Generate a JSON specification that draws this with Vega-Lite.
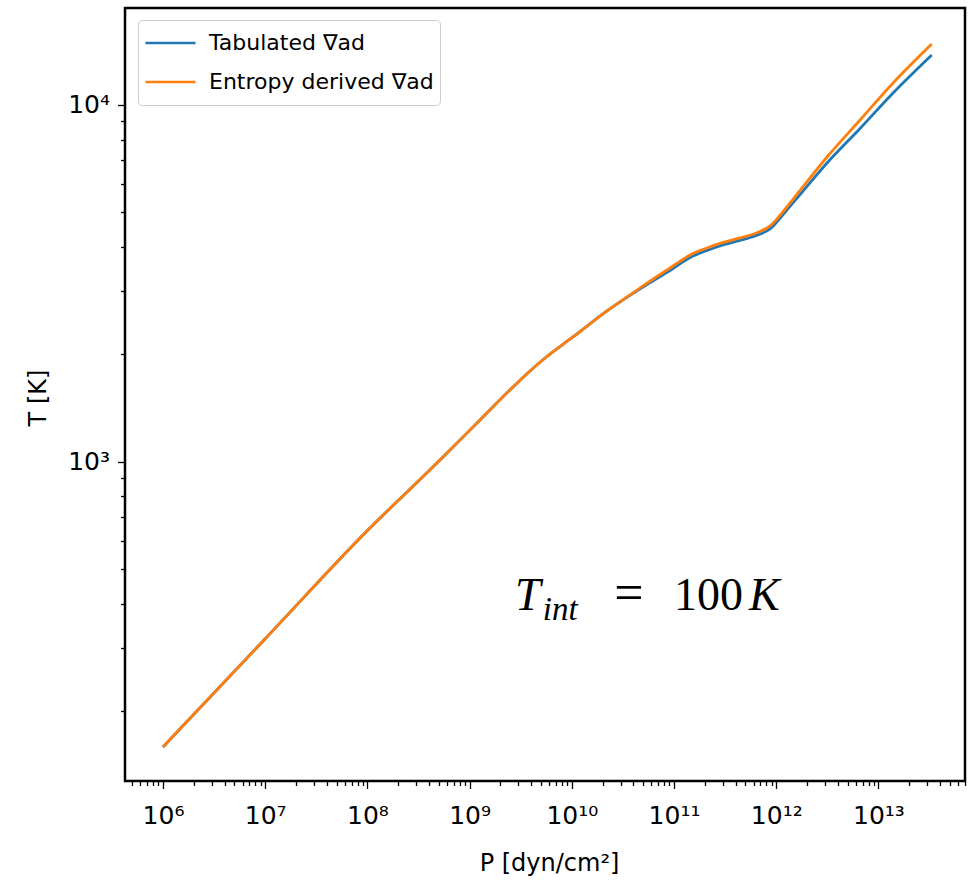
{
  "$schema": "https://vega.github.io/schema/vega-lite/v6.json",
  "width": 840,
  "height": 773,
  "autosize": {"type": "none"},
  "padding": {"left": 125, "top": 8, "right": 3, "bottom": 102},
  "background": "white",
  "config": {
    "font": "DejaVu Sans",
    "view": {"stroke": "black", "strokeWidth": 2.5},
    "axis": {"grid": false, "domain": false, "tickColor": "black", "tickWidth": 1.3, "labelColor": "black", "titleColor": "black", "labelFont": "DejaVu Sans", "titleFont": "DejaVu Sans", "titleFontWeight": "normal"}
  },
  "data": {
    "values": [
      {"P": 1e6, "T": 158.6, "series": "Tabulated ∇ad"},
      {"P": 1e7, "T": 318.8, "series": "Tabulated ∇ad"},
      {"P": 1e8, "T": 641, "series": "Tabulated ∇ad"},
      {"P": 5.13e8, "T": 1011, "series": "Tabulated ∇ad"},
      {"P": 1.264e9, "T": 1309, "series": "Tabulated ∇ad"},
      {"P": 2.659e9, "T": 1620, "series": "Tabulated ∇ad"},
      {"P": 3.899e9, "T": 1796, "series": "Tabulated ∇ad"},
      {"P": 5.47e9, "T": 1953, "series": "Tabulated ∇ad"},
      {"P": 1.027e10, "T": 2237, "series": "Tabulated ∇ad"},
      {"P": 2.21e10, "T": 2646, "series": "Tabulated ∇ad"},
      {"P": 4.648e10, "T": 3050, "series": "Tabulated ∇ad"},
      {"P": 9.78e10, "T": 3480, "series": "Tabulated ∇ad"},
      {"P": 1.434e11, "T": 3736, "series": "Tabulated ∇ad"},
      {"P": 2.103e11, "T": 3909, "series": "Tabulated ∇ad"},
      {"P": 3.017e11, "T": 4052, "series": "Tabulated ∇ad"},
      {"P": 4.424e11, "T": 4171, "series": "Tabulated ∇ad"},
      {"P": 6.2e11, "T": 4294, "series": "Tabulated ∇ad"},
      {"P": 8.7e11, "T": 4492, "series": "Tabulated ∇ad"},
      {"P": 1.247e12, "T": 5044, "series": "Tabulated ∇ad"},
      {"P": 1.634e12, "T": 5522, "series": "Tabulated ∇ad"},
      {"P": 3.142e12, "T": 6878, "series": "Tabulated ∇ad"},
      {"P": 6.607e12, "T": 8594, "series": "Tabulated ∇ad"},
      {"P": 1.39e13, "T": 10804, "series": "Tabulated ∇ad"},
      {"P": 3.323e13, "T": 13810, "series": "Tabulated ∇ad"},
      {"P": 1e6, "T": 158.6, "series": "Entropy derived ∇ad"},
      {"P": 1e7, "T": 318.8, "series": "Entropy derived ∇ad"},
      {"P": 1e8, "T": 641, "series": "Entropy derived ∇ad"},
      {"P": 5.13e8, "T": 1011, "series": "Entropy derived ∇ad"},
      {"P": 1.264e9, "T": 1309, "series": "Entropy derived ∇ad"},
      {"P": 2.659e9, "T": 1620, "series": "Entropy derived ∇ad"},
      {"P": 3.899e9, "T": 1796, "series": "Entropy derived ∇ad"},
      {"P": 5.47e9, "T": 1953, "series": "Entropy derived ∇ad"},
      {"P": 1.027e10, "T": 2237, "series": "Entropy derived ∇ad"},
      {"P": 2.21e10, "T": 2646, "series": "Entropy derived ∇ad"},
      {"P": 4.648e10, "T": 3069, "series": "Entropy derived ∇ad"},
      {"P": 9.78e10, "T": 3537, "series": "Entropy derived ∇ad"},
      {"P": 1.434e11, "T": 3797, "series": "Entropy derived ∇ad"},
      {"P": 2.103e11, "T": 3972, "series": "Entropy derived ∇ad"},
      {"P": 3.017e11, "T": 4117, "series": "Entropy derived ∇ad"},
      {"P": 4.424e11, "T": 4240, "series": "Entropy derived ∇ad"},
      {"P": 6.2e11, "T": 4364, "series": "Entropy derived ∇ad"},
      {"P": 8.7e11, "T": 4580, "series": "Entropy derived ∇ad"},
      {"P": 1.247e12, "T": 5143, "series": "Entropy derived ∇ad"},
      {"P": 1.634e12, "T": 5667, "series": "Entropy derived ∇ad"},
      {"P": 3.142e12, "T": 7148, "series": "Entropy derived ∇ad"},
      {"P": 6.607e12, "T": 9077, "series": "Entropy derived ∇ad"},
      {"P": 1.39e13, "T": 11527, "series": "Entropy derived ∇ad"},
      {"P": 3.323e13, "T": 14825, "series": "Entropy derived ∇ad"}
    ]
  },
  "layer": [
    {
      "transform": [{"filter": "datum.series === 'Tabulated ∇ad'"}],
      "mark": {"type": "line", "strokeWidth": 2.8, "interpolate": "monotone"},
      "encoding": {
        "x": {"field": "P", "type": "quantitative", "scale": {"type": "log", "domain": [424600, 70300000000000], "nice": false},
          "axis": {"orient": "bottom", "title": "P [dyn/cm²]", "titleFontSize": 24, "titleBaseline": "alphabetic", "titleY": 89, "titleX": 424,
            "values": [100000,200000,300000,400000,500000,600000,700000,800000,900000,1e6,2e6,3e6,4e6,5e6,6e6,7e6,8e6,9e6,1e7,2e7,3e7,4e7,5e7,6e7,7e7,8e7,9e7,1e8,2e8,3e8,4e8,5e8,6e8,7e8,8e8,9e8,1e9,2e9,3e9,4e9,5e9,6e9,7e9,8e9,9e9,1e10,2e10,3e10,4e10,5e10,6e10,7e10,8e10,9e10,1e11,2e11,3e11,4e11,5e11,6e11,7e11,8e11,9e11,1e12,2e12,3e12,4e12,5e12,6e12,7e12,8e12,9e12,1e13,2e13,3e13,4e13,5e13,6e13,7e13,8e13,9e13],
            "labelExpr": "abs(log(datum.value)/LN10 - round(log(datum.value)/LN10)) < 0.001 ? (round(log(datum.value)/LN10) < 10 ? '10' + ['⁰','¹','²','³','⁴','⁵','⁶','⁷','⁸','⁹'][round(log(datum.value)/LN10)] : '10¹' + ['⁰','¹','²','³','⁴','⁵','⁶','⁷','⁸','⁹'][round(log(datum.value)/LN10) - 10]) : ''",
            "labelFontSize": 25, "labelPadding": 15, "labelOverlap": false, "labelFlush": false, "labelBound": false,
            "tickSize": {"condition": {"test": "abs(log(datum.value)/LN10 - round(log(datum.value)/LN10)) < 0.001", "value": 7.5}, "value": 4.5}}},
        "y": {"field": "T", "type": "quantitative", "scale": {"type": "log", "domain": [127.3, 18700], "nice": false},
          "axis": {"orient": "left", "title": "T [K]", "titleFontSize": 24, "titleBaseline": "alphabetic", "titleAngle": 270, "titleX": -80, "titleY": 389.5, "titleAlign": "center",
            "values": [100,200,300,400,500,600,700,800,900,1000,2000,3000,4000,5000,6000,7000,8000,9000,10000,20000,30000,40000,50000,60000,70000,80000,90000],
            "labelExpr": "abs(log(datum.value)/LN10 - round(log(datum.value)/LN10)) < 0.001 ? (round(log(datum.value)/LN10) < 10 ? '10' + ['⁰','¹','²','³','⁴','⁵','⁶','⁷','⁸','⁹'][round(log(datum.value)/LN10)] : '10¹' + ['⁰','¹','²','³','⁴','⁵','⁶','⁷','⁸','⁹'][round(log(datum.value)/LN10) - 10]) : ''",
            "labelFontSize": 25, "labelPadding": 8, "labelOverlap": false, "labelFlush": false, "labelBound": false, "labelBaseline": "middle",
            "tickSize": {"condition": {"test": "abs(log(datum.value)/LN10 - round(log(datum.value)/LN10)) < 0.001", "value": 7.5}, "value": 4.5}}},
        "color": {"field": "series", "type": "nominal",
          "scale": {"domain": ["Tabulated ∇ad", "Entropy derived ∇ad"], "range": ["#1f77b4", "#ff7f0e"]},
          "legend": {"orient": "none", "legendX": 13, "legendY": 12, "title": null, "symbolType": "stroke", "symbolSize": 2500, "symbolStrokeWidth": 2.5, "clipHeight": 34, "rowPadding": 5, "padding": 6, "labelFont": "DejaVu Sans", "labelFontSize": 22, "labelColor": "black", "labelOffset": 12, "labelLimit": 400, "fillColor": "white", "strokeColor": "#cccccc", "cornerRadius": 4}}
      }
    },
    {
      "transform": [{"filter": "datum.series === 'Entropy derived ∇ad'"}],
      "mark": {"type": "line", "strokeWidth": 2.8, "interpolate": "monotone"},
      "encoding": {
        "x": {"field": "P", "type": "quantitative"},
        "y": {"field": "T", "type": "quantitative"},
        "color": {"field": "series", "type": "nominal"}
      }
    },
    {
      "data": {"values": [{"txt": "T"}]},
      "mark": {"type": "text", "font": "Liberation Serif", "fontStyle": "italic", "fontSize": 46, "align": "left", "baseline": "alphabetic", "color": "black"},
      "encoding": {"x": {"datum": 2.78e9, "type": "quantitative"}, "y": {"datum": 384, "type": "quantitative"}, "text": {"field": "txt"}}
    },
    {
      "data": {"values": [{"txt": "int"}]},
      "mark": {"type": "text", "font": "Liberation Serif", "fontStyle": "italic", "fontSize": 33, "align": "left", "baseline": "alphabetic", "color": "black"},
      "encoding": {"x": {"datum": 5.2e9, "type": "quantitative"}, "y": {"datum": 359.8, "type": "quantitative"}, "text": {"field": "txt"}}
    },
    {
      "data": {"values": [{"txt": "="}]},
      "mark": {"type": "text", "font": "Liberation Serif", "fontSize": 52, "align": "left", "baseline": "alphabetic", "color": "black"},
      "encoding": {"x": {"datum": 2.6e10, "type": "quantitative"}, "y": {"datum": 384, "type": "quantitative"}, "text": {"field": "txt"}}
    },
    {
      "data": {"values": [{"txt": "100"}]},
      "mark": {"type": "text", "font": "Liberation Serif", "fontSize": 46, "align": "left", "baseline": "alphabetic", "color": "black"},
      "encoding": {"x": {"datum": 1.0e11, "type": "quantitative"}, "y": {"datum": 384, "type": "quantitative"}, "text": {"field": "txt"}}
    },
    {
      "data": {"values": [{"txt": "K"}]},
      "mark": {"type": "text", "font": "Liberation Serif", "fontStyle": "italic", "fontSize": 46, "align": "left", "baseline": "alphabetic", "color": "black"},
      "encoding": {"x": {"datum": 5.42e11, "type": "quantitative"}, "y": {"datum": 384, "type": "quantitative"}, "text": {"field": "txt"}}
    }
  ]
}
